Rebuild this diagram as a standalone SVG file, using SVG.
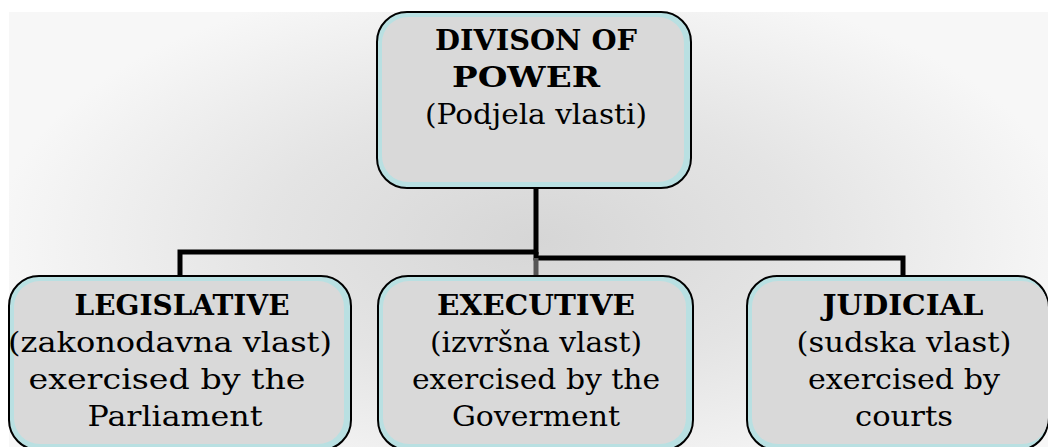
<svg xmlns="http://www.w3.org/2000/svg" width="1048" height="447" viewBox="0 0 1048 447">
<defs>
<radialGradient id="bg" gradientUnits="userSpaceOnUse" cx="536" cy="240" r="540" gradientTransform="translate(536 240) scale(1 0.5) translate(-536 -240)">
<stop offset="0" stop-color="#d6d6d6"/>
<stop offset="0.5" stop-color="#e4e4e4"/>
<stop offset="1" stop-color="#f7f7f7"/>
</radialGradient>
<style>
.outer{fill:#b9e0e2;stroke:#000;stroke-width:2}
.inner{fill:#d9d9d9}
.t{font-family:"DejaVu Serif","Liberation Serif",serif;font-size:28px;fill:#000;text-anchor:middle}
.b{font-weight:bold}
.c{fill:none;stroke:#000;stroke-width:5}
</style>
</defs>
<rect x="0" y="0" width="1048" height="447" fill="#fff"/>
<rect x="9" y="12" width="1039" height="435" fill="url(#bg)"/>
<g id="connectors">
<polyline class="c" points="536,188 536,252 180,252 180,277"/>
<polyline class="c" points="536,252 536,258 903,258 903,277"/>
<line x1="536" y1="258" x2="536" y2="277" stroke="#555" stroke-width="5"/>
</g>
<g id="n-top">
<rect class="outer" x="377" y="12" width="314" height="176" rx="30"/>
<rect class="inner" x="382" y="17" width="302" height="165" rx="26"/>
<text class="t b" x="536" y="50" textLength="202" lengthAdjust="spacingAndGlyphs">DIVISON OF</text>
<text class="t b" x="526" y="87" textLength="148" lengthAdjust="spacingAndGlyphs">POWER</text>
<text class="t" x="536" y="124" textLength="222" lengthAdjust="spacingAndGlyphs">(Podjela vlasti)</text>
</g>
<g id="n-legislative">
<rect class="outer" x="9" y="276" width="342" height="174" rx="30"/>
<rect class="inner" x="14" y="281" width="330" height="163" rx="26"/>
<text class="t b" x="182" y="315" textLength="215" lengthAdjust="spacingAndGlyphs">LEGISLATIVE</text>
<text class="t" x="170" y="352" textLength="324" lengthAdjust="spacingAndGlyphs">(zakonodavna vlast)</text>
<text class="t" x="167" y="389" textLength="277" lengthAdjust="spacingAndGlyphs">exercised by the</text>
<text class="t" x="175" y="426" textLength="175" lengthAdjust="spacingAndGlyphs">Parliament</text>
</g>
<g id="n-executive">
<rect class="outer" x="378" y="276" width="315" height="174" rx="30"/>
<rect class="inner" x="383" y="281" width="303" height="163" rx="26"/>
<text class="t b" x="536" y="315" textLength="198" lengthAdjust="spacingAndGlyphs">EXECUTIVE</text>
<text class="t" x="536" y="352" textLength="212" lengthAdjust="spacingAndGlyphs">(izvršna vlast)</text>
<text class="t" x="536" y="389" textLength="248" lengthAdjust="spacingAndGlyphs">exercised by the</text>
<text class="t" x="536" y="426" textLength="168" lengthAdjust="spacingAndGlyphs">Goverment</text>
</g>
<g id="n-judicial">
<rect class="outer" x="747" y="276" width="301" height="174" rx="30"/>
<rect class="inner" x="752" y="281" width="296" height="163" rx="26"/>
<text class="t b" x="903" y="315" textLength="161" lengthAdjust="spacingAndGlyphs">JUDICIAL</text>
<text class="t" x="904" y="352" textLength="215" lengthAdjust="spacingAndGlyphs">(sudska vlast)</text>
<text class="t" x="904" y="389" textLength="192" lengthAdjust="spacingAndGlyphs">exercised by</text>
<text class="t" x="904" y="426" textLength="98" lengthAdjust="spacingAndGlyphs">courts</text>
</g>
</svg>
